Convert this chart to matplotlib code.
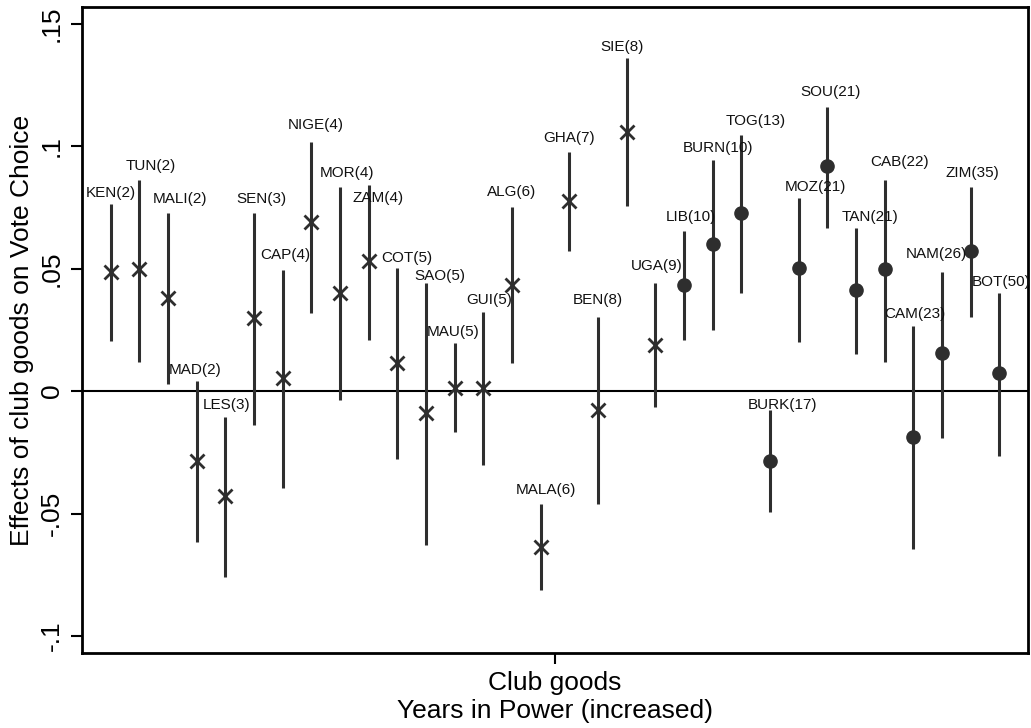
import matplotlib
matplotlib.use("Agg")
import matplotlib.pyplot as plt

plt.rcParams['font.family'] = ['Liberation Sans', 'DejaVu Sans']

# countries ordered by years in power (position on the x axis)
countries = ["KEN(2)", "TUN(2)", "MALI(2)", "MAD(2)", "LES(3)", "SEN(3)", "CAP(4)", "NIGE(4)",
             "MOR(4)", "ZAM(4)", "COT(5)", "SAO(5)", "MAU(5)", "GUI(5)", "ALG(6)", "MALA(6)",
             "GHA(7)", "BEN(8)", "SIE(8)", "UGA(9)", "LIB(10)", "BURN(10)", "TOG(13)", "BURK(17)",
             "MOZ(21)", "SOU(21)", "TAN(21)", "CAB(22)", "CAM(23)", "NAM(26)", "ZIM(35)", "BOT(50)"]
coef = [0.0487, 0.0499, 0.038, -0.0286, -0.0429, 0.0298, 0.0053, 0.069,
        0.040, 0.0531, 0.0114, -0.0091, 0.0012, 0.0012, 0.0433, -0.0637,
        0.0777, -0.0078, 0.106, 0.0188, 0.0433, 0.0601, 0.0728, -0.0286,
        0.0503, 0.092, 0.0413, 0.0499, -0.0188, 0.0155, 0.0572, 0.0074]
ci_hi = [0.0765, 0.0863, 0.0728, 0.004, -0.0107, 0.0728, 0.0495, 0.102,
         0.0834, 0.0842, 0.0503, 0.0442, 0.0196, 0.0323, 0.0752, -0.0462,
         0.0977, 0.0303, 0.136, 0.0442, 0.0654, 0.0944, 0.1047, -0.0078,
         0.0789, 0.116, 0.0666, 0.0863, 0.0266, 0.0487, 0.0834, 0.0401]
ci_lo = [0.0205, 0.012, 0.003, -0.0617, -0.076, -0.0139, -0.0397, 0.0319,
         -0.0037, 0.0208, -0.0278, -0.063, -0.0168, -0.0303, 0.0114, -0.0814,
         0.0572, -0.0462, 0.0756, -0.0065, 0.0208, 0.0249, 0.040, -0.0495,
         0.020, 0.0666, 0.0151, 0.0119, -0.0646, -0.0192, 0.0303, -0.0266]
# first 20 governments are marked with x, the rest with dots
long_rule = [False] * 20 + [True] * 12

# label nudges in points (x, y above the CI top)
label_dx = [0, 8, 9, -1, 1, 5, 2, 3, 5, 7, 7, 10, -1, 4, 0, 4,
            0, 0, -3, 1, 5, 4, 10, 9, 12, 2, 10, 11, 1, -4, 1, 1]
label_dy = [8, 10, 10, 8, 9, 10, 11, 12, 10, -9, 7, 5, 8, 9, 11, 10,
            10, 12, 8, 12, 10, 9, 10, 4, 8, 11, 8, 13, 9, 13, 10, 8]

fig = plt.figure(figsize=(10.31, 7.28), dpi=100)
ax = fig.add_axes([82 / 1031, 75 / 728, 946 / 1031, 646 / 728])

col = '#2e2e2e'
for i in range(len(countries)):
    ax.plot([i, i], [ci_lo[i], ci_hi[i]], color=col, lw=2.2, solid_capstyle='butt', zorder=2)
    if long_rule[i]:
        ax.plot(i, coef[i], 'o', color=col, ms=9.5, zorder=3)
    else:
        ax.plot(i, coef[i], 'x', color=col, ms=9.5, mew=2, zorder=3)
    ax.annotate(countries[i], (i, ci_hi[i]), xytext=(label_dx[i], label_dy[i]),
                textcoords='offset points', ha='center', va='center', fontsize=11,
                color='#111111', zorder=4)

ax.axhline(0, color='black', lw=1.5, zorder=1)

ax.set_xlim(-1, 32)
ax.set_ylim(-0.107, 0.157)
ax.set_xticks([15.5])
ax.set_xticklabels(['Club goods'], fontsize=19)
ax.set_yticks([-0.1, -0.05, 0, 0.05, 0.1, 0.15])
ax.set_yticklabels(['-.1', '-.05', '0', '.05', '.1', '.15'], rotation=90, va='center', fontsize=19)
ax.tick_params(axis='both', length=8, width=1.5, direction='out', pad=5)
ax.set_xlabel('Years in Power (increased)', fontsize=19, labelpad=3)
ax.set_ylabel('Effects of club goods on Vote Choice', fontsize=19, labelpad=4)
for s in ax.spines.values():
    s.set_linewidth(2)

fig.savefig('out.png', dpi=100)
